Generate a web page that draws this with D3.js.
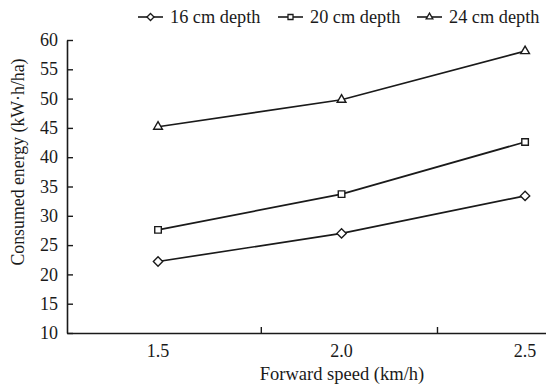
<!DOCTYPE html>
<html><head><meta charset="utf-8">
<script src="https://cdn.jsdelivr.net/npm/d3@7/dist/d3.min.js"></script>
<style>body{margin:0;background:#fff}svg{display:block}text{font-family:"Liberation Serif","Times New Roman",serif;fill:#1a1a1a}</style>
</head><body><svg id="c" width="546" height="385"></svg>
<script>
const speeds = [1.5, 2.0, 2.5];
const speedLabels = ["1.5", "2.0", "2.5"];
const xTickMarks = [1.78, 2.26];
const seriesNames = ["16 cm depth", "20 cm depth", "24 cm depth"];
const depth16 = [22.2, 27.0, 33.4];
const depth20 = [27.6, 33.7, 42.6];
const depth24 = [45.2, 49.8, 58.1];
const yTicks = [10, 15, 20, 25, 30, 35, 40, 45, 50, 55, 60];
const symbols = [d3.symbolDiamond2, d3.symbolSquare2, d3.symbolTriangle2];

const svg = d3.select("#c");
const x = d3.scaleLinear().domain([1.252, 2.557]).range([67, 546]);
const y = d3.scaleLinear().domain([10, 60]).range([333, 40]);
const ink = "#1a1a1a";

// y axis
const ya = svg.append("g").attr("transform", `translate(${x.range()[0]},0)`)
  .call(d3.axisRight(y).tickValues(yTicks).tickSize(6).tickSizeOuter(0).tickFormat(""));
ya.select(".domain").attr("stroke", ink).attr("stroke-width", 1.6);
ya.selectAll(".tick line").attr("stroke", ink).attr("stroke-width", 1.4);
svg.append("g").selectAll("text").data(yTicks).join("text")
  .attr("x", 58).attr("y", d => y(d)).attr("dy", "0.34em").attr("text-anchor", "end")
  .attr("font-size", 18).text(d => d);

// x axis
const xa = svg.append("g").attr("transform", `translate(0,${y.range()[0]})`)
  .call(d3.axisTop(x).tickValues(xTickMarks).tickSize(6).tickSizeOuter(0).tickFormat(""));
xa.select(".domain").attr("stroke", ink).attr("stroke-width", 1.6);
xa.selectAll(".tick line").attr("stroke", ink).attr("stroke-width", 1.4);
svg.append("g").selectAll("text").data(speeds).join("text")
  .attr("x", d => x(d)).attr("y", 357).attr("text-anchor", "middle")
  .attr("font-size", 18).text((d, i) => speedLabels[i]);

svg.append("text").attr("x", 342).attr("y", 380).attr("text-anchor", "middle")
  .attr("font-size", 18.5).text("Forward speed (km/h)");
svg.append("text").attr("transform", "translate(18,162) rotate(-90)").attr("dy", "0.35em")
  .attr("text-anchor", "middle").attr("font-size", 17.8).text("Consumed energy (kW·h/ha)");

// series
const all = [depth16, depth20, depth24];
const line = d3.line().x((d, i) => x(speeds[i])).y(d => y(d));
all.forEach((vals, k) => {
  svg.append("path").datum(vals).attr("d", line).attr("fill", "none")
    .attr("stroke", ink).attr("stroke-width", 1.7);
  svg.append("g").selectAll("path").data(vals).join("path")
    .attr("transform", (d, i) => `translate(${x(speeds[i])},${y(d)})`)
    .attr("d", d3.symbol(symbols[k], 55)).attr("fill", "#fff")
    .attr("stroke", ink).attr("stroke-width", 1.4);
});

// legend
const legX = [138, 278, 417];
const leg = svg.append("g");
seriesNames.forEach((n, k) => {
  const g = leg.append("g").attr("transform", `translate(${legX[k]},17)`);
  g.append("line").attr("x1", 0).attr("x2", 25).attr("stroke", ink).attr("stroke-width", 1.6);
  g.append("path").attr("transform", "translate(12.5,0)").attr("d", d3.symbol(symbols[k], 32))
    .attr("fill", "#fff").attr("stroke", ink).attr("stroke-width", 1.3);
  g.append("text").attr("x", 32).attr("dy", "0.34em").attr("font-size", 18.3).text(n);
});
</script></body></html>
